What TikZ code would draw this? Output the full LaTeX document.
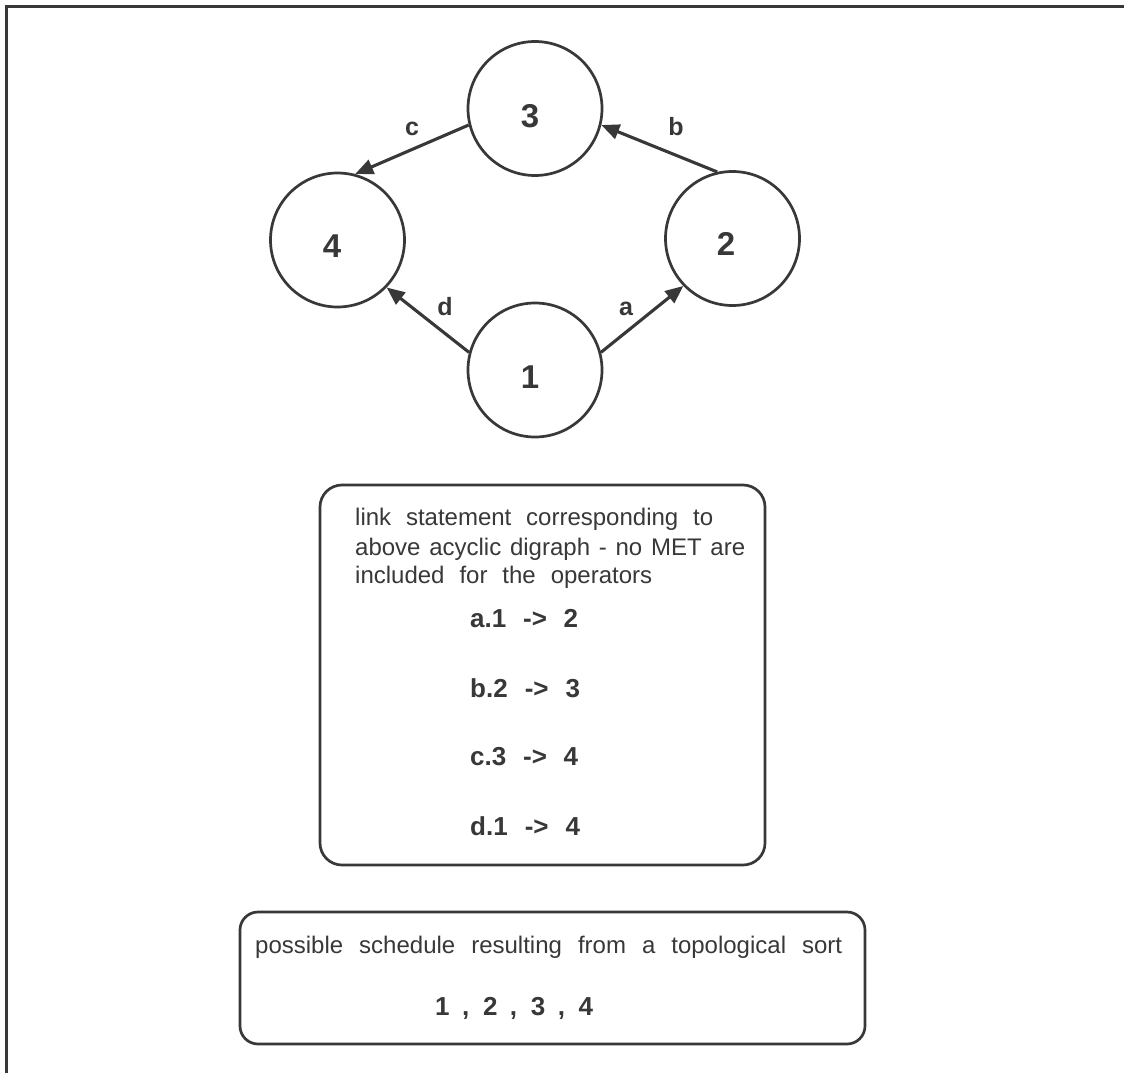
\documentclass[tikz,border=0pt]{standalone}
\usepackage{fontspec}
\setmainfont{Liberation Sans}
\usetikzlibrary{arrows.meta}
\definecolor{ink}{gray}{0.22}
\begin{document}
\begin{tikzpicture}[x=1pt,y=-1pt,
  vertex/.style={circle,draw=ink,line width=2.7pt,minimum size=134pt,inner sep=0pt},
  digit/.style={font=\fontsize{33}{36}\selectfont\bfseries,text=ink,anchor=base,inner sep=0pt},
  elabel/.style={font=\fontsize{25}{28}\selectfont\bfseries,text=ink,anchor=base,inner sep=0pt},
  edge/.style={draw=ink,line width=3.1pt,-{Triangle[length=18pt,width=15pt]}},
  panel/.style={draw=ink,line width=2.7pt,inner sep=0pt},
  prose/.style={font=\fontsize{24}{28}\selectfont,text=ink,anchor=base west,inner sep=0pt},
  formula/.style={font=\fontsize{26}{30}\selectfont\bfseries,text=ink,anchor=base west,inner sep=0pt}]

\useasboundingbox (0,0) rectangle (1124,1073);
\fill[white] (0,0) rectangle (1124,1073);

% page frame
\draw[ink,line width=3pt] (6,1073) -- (6,7) -- (1124,7);

% graph
\node[vertex] (n3) at (535,108.5) {};
\node[vertex] (n4) at (337.5,240) {};
\node[vertex] (n2) at (732.5,238.5) {};
\node[vertex] (n1) at (535,370) {};

\node[digit] (t3) at (530,127) {3};
\node[digit] (t4) at (332,257) {4};
\node[digit] (t2) at (726,255) {2};
\node[digit] (t1) at (530,388) {1};

\draw[edge] (n3.194) -- (n4.75);
\draw[edge] (n2.103) -- (n3.346);
\draw[edge] (n1.165) -- (n4.316);
\draw[edge] (n1.15) -- (n2.224);

\node[elabel] (lc) at (412,135) {c};
\node[elabel] (lb) at (676,135) {b};
\node[elabel] (ld) at (445,315) {d};
\node[elabel] (la) at (626,315) {a};

% link statement box
\node[panel,rounded corners=22pt,minimum width=445pt,minimum height=380pt] (box1) at (542.5,675) {};
\node[prose] (p1) at (355,525) {\makebox[358pt][s]{link statement corresponding to}};
\node[prose] (p2) at (355,555) {\makebox[390pt][s]{above acyclic digraph - no MET are}};
\node[prose] (p3) at (355,583) {\makebox[297pt][s]{included for the operators}};
\node[formula] (f1) at (470,627) {\makebox[108pt][s]{a.1 -> 2}};
\node[formula] (f2) at (470,697) {\makebox[110pt][s]{b.2 -> 3}};
\node[formula] (f3) at (470,765) {\makebox[108pt][s]{c.3 -> 4}};
\node[formula] (f4) at (470,835) {\makebox[110pt][s]{d.1 -> 4}};

% schedule box
\node[panel,rounded corners=18pt,minimum width=625pt,minimum height=132pt] (box2) at (552.5,978) {};
\node[prose] (s1) at (255,953) {\makebox[587pt][s]{possible schedule resulting from a topological sort}};
\node[formula] (s2) at (435,1015) {\makebox[158pt][s]{1 , 2 , 3 , 4}};
\end{tikzpicture}
\end{document}
